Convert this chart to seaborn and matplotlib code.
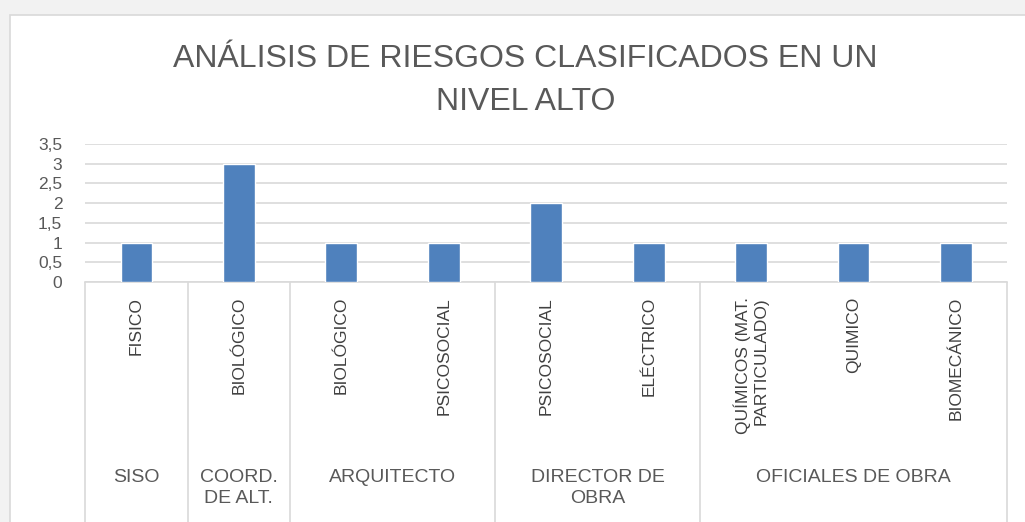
import pandas as pd
import matplotlib.pyplot as plt
from matplotlib.patches import Rectangle
import seaborn as sns

# Datos del gráfico
cargos = ["SISO", "COORD.\nDE ALT.", "ARQUITECTO", "DIRECTOR DE\nOBRA", "OFICIALES DE OBRA"]
riesgos_por_cargo = [
    ["FISICO"],
    ["BIOLÓGICO"],
    ["BIOLÓGICO", "PSICOSOCIAL"],
    ["PSICOSOCIAL", "ELÉCTRICO"],
    ["QUÍMICOS (MAT.\nPARTICULADO)", "QUIMICO", "BIOMECÁNICO"],
]
valores = [1, 3, 1, 1, 2, 1, 1, 1, 1]
valores_y = [0, 0.5, 1, 1.5, 2, 2.5, 3, 3.5]

# Tabla larga con una clave única por barra
filas = []
for cargo, riesgos in zip(cargos, riesgos_por_cargo):
    for r in riesgos:
        filas.append({"cargo": cargo, "riesgo": r})
df = pd.DataFrame(filas)
df["clave"] = [f"{i}_{r}" for i, r in enumerate(df["riesgo"])]
df["valor"] = valores

sns.set_style("white")
plt.rcParams["font.family"] = ["Liberation Sans", "DejaVu Sans"]

gris = "#595959"
gris_osc = "#404040"
linea = "#d9d9d9"

fig = plt.figure(figsize=(10.25, 5.22), dpi=100, facecolor="#f2f2f2")
fondo = Rectangle((10 / 1025, -0.01), 1.0, 1 - 15 / 522 + 0.01,
                  transform=fig.transFigure, facecolor="white",
                  edgecolor=linea, linewidth=1.2, zorder=-10)
fig.patches.append(fondo)
ax = fig.add_axes([0.0832, 0.4598, 0.8994, 0.2644])
ax.set_facecolor("none")
ax.set_zorder(1)

sns.barplot(data=df, x="clave", y="valor", color="#4f81bd", width=0.31,
            saturation=1, ax=ax, zorder=3)

ax.set_ylim(0, 3.5)
ax.set_xlim(-0.5, len(df) - 0.5)
ax.set_yticks(valores_y)
ax.set_yticklabels([str(v).replace(".", ",").replace(",0", "") for v in valores_y])
ax.yaxis.grid(True, color=linea, linewidth=1.2)
ax.set_axisbelow(True)
ax.set_xlabel("")
ax.set_ylabel("")

for s in ["top", "right", "left"]:
    ax.spines[s].set_visible(False)
ax.spines["bottom"].set_color(linea)
ax.spines["bottom"].set_linewidth(1.2)

ax.tick_params(axis="y", length=0, pad=16.5, labelsize=12.5, labelcolor=gris)
ax.tick_params(axis="x", length=0, pad=10.8, labelsize=12.5, labelcolor=gris_osc)
ax.set_xticks(range(len(df)))
ax.set_xticklabels(df["riesgo"], rotation=90, va="top", ha="center")
for t in ax.get_xticklabels():
    t.set_multialignment("right")

# Separadores y etiquetas de grupo
limites = [-0.5]
inicio = 0
for cargo, riesgos in zip(cargos, riesgos_por_cargo):
    fin = inicio + len(riesgos)
    limites.append(fin - 0.5)
    centro = (inicio + fin - 1) / 2
    ax.annotate(cargo, xy=(centro, 0), xycoords=ax.get_xaxis_transform(),
                xytext=(0, -135), textcoords="offset points",
                ha="center", va="top", fontsize=14, color=gris,
                linespacing=1.3, annotation_clip=False)
    inicio = fin
ax.vlines(limites, -1.75, 0, transform=ax.get_xaxis_transform(),
          color=linea, linewidth=1.2, clip_on=False)

fig.text(0.5125, 1 - 67 / 522, "ANÁLISIS DE RIESGOS CLASIFICADOS EN UN",
         ha="center", va="baseline", fontsize=23, color=gris)
fig.text(0.5125, 1 - 110 / 522, "NIVEL ALTO",
         ha="center", va="baseline", fontsize=23, color=gris)

fig.savefig("out.png", dpi=100, facecolor=fig.get_facecolor())
